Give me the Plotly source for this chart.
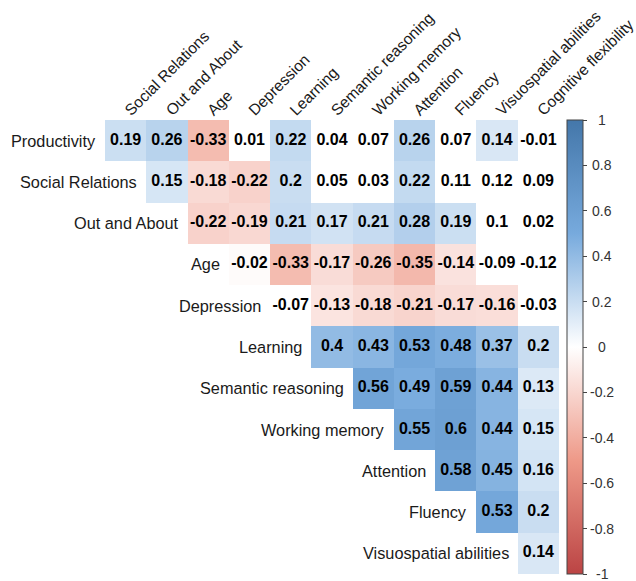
import plotly.graph_objects as go

# Variables (rows run top to bottom, columns left to right)
row_names = ["Productivity", "Social Relations", "Out and About", "Age", "Depression",
             "Learning", "Semantic reasoning", "Working memory", "Attention", "Fluency",
             "Visuospatial abilities"]
col_names = ["Social Relations", "Out and About", "Age", "Depression", "Learning",
             "Semantic reasoning", "Working memory", "Attention", "Fluency",
             "Visuospatial abilities", "Cognitive flexibility"]

# Upper-triangle correlations: row i starts at column i
corr_rows = [
    [0.19, 0.26, -0.33, 0.01, 0.22, 0.04, 0.07, 0.26, 0.07, 0.14, -0.01],
    [0.15, -0.18, -0.22, 0.2, 0.05, 0.03, 0.22, 0.11, 0.12, 0.09],
    [-0.22, -0.19, 0.21, 0.17, 0.21, 0.28, 0.19, 0.1, 0.02],
    [-0.02, -0.33, -0.17, -0.26, -0.35, -0.14, -0.09, -0.12],
    [-0.07, -0.13, -0.18, -0.21, -0.17, -0.16, -0.03],
    [0.4, 0.43, 0.53, 0.48, 0.37, 0.2],
    [0.56, 0.49, 0.59, 0.44, 0.13],
    [0.55, 0.6, 0.44, 0.15],
    [0.58, 0.45, 0.16],
    [0.53, 0.2],
    [0.14],
]

# Significance flags (1 = shaded cell, 0 = value shown on white)
signif_rows = [
    [1, 1, 1, 0, 1, 0, 0, 1, 0, 1, 0],
    [1, 1, 1, 1, 0, 0, 1, 0, 0, 0],
    [1, 1, 1, 1, 1, 1, 1, 0, 0],
    [1, 1, 1, 1, 1, 1, 0, 0],
    [0, 1, 1, 1, 1, 1, 0],
    [1, 1, 1, 1, 1, 1],
    [1, 1, 1, 1, 1],
    [1, 1, 1, 1],
    [1, 1, 1],
    [1, 1],
    [1],
]

colorbar_ticks = [1, 0.8, 0.6, 0.4, 0.2, 0, -0.2, -0.4, -0.6, -0.8, -1]

n = len(row_names)
z = [[None] * n for _ in range(n)]
tx, ty, tt = [], [], []
for i, vals in enumerate(corr_rows):
    for k, v in enumerate(vals):
        j = i + k
        if signif_rows[i][k]:
            z[i][j] = v
        tx.append(j)
        ty.append(i)
        tt.append(f"{v:g}")

colorscale = [
    [0.0, "#BB4444"],
    [0.25, "#EE9988"],
    [0.5, "#FFFFFF"],
    [0.75, "#77AADD"],
    [1.0, "#4477AA"],
]

FONT = "Liberation Sans, Arial, sans-serif"

fig = go.Figure()
fig.add_trace(go.Heatmap(
    z=z, x=list(range(n)), y=list(range(n)),
    zmin=-1, zmax=1, colorscale=colorscale, hoverongaps=False,
    colorbar=dict(
        x=1.0176, xanchor="left", xpad=0, y=0.5, yanchor="middle", ypad=0,
        len=1, lenmode="fraction", thickness=16, thicknessmode="pixels",
        outlinewidth=1, outlinecolor="#444444",
        tickmode="array", tickvals=colorbar_ticks, ticks="outside", ticklen=4,
        tickcolor="#444444", showticklabels=False,
    ),
))

fig.add_trace(go.Scatter(
    x=tx, y=ty, text=tt, mode="text", hoverinfo="skip", showlegend=False,
    textfont=dict(family=FONT, size=16, color="#000000", weight="bold"),
))

annotations = []
# Row labels sit just left of each row's first cell
for i, name in enumerate(row_names):
    annotations.append(dict(
        x=i - 0.5, y=i, xref="x", yref="y", text=name, showarrow=False,
        xanchor="right", yanchor="middle", xshift=-7,
        font=dict(family=FONT, size=16.3, color="#1a1a1a"),
    ))
# Centered colorbar tick labels
for t in colorbar_ticks:
    annotations.append(dict(
        x=1.095, y=(t + 1) / 2, xref="paper", yref="paper", text=f"{t:g}",
        showarrow=False, xanchor="center", yanchor="middle",
        font=dict(family=FONT, size=14, color="#333333"),
    ))

fig.update_layout(
    width=636, height=581,
    margin=dict(l=105, r=77, t=120, b=7, autoexpand=False),
    paper_bgcolor="white", plot_bgcolor="white",
    annotations=annotations,
    showlegend=False,
)
fig.update_xaxes(
    range=[-0.5, n - 0.5], side="top", tickmode="array",
    tickvals=list(range(n)), ticktext=col_names, tickangle=-45,
    showgrid=False, zeroline=False, showline=False, ticks="",
    automargin=False, ticklabeloverflow="allow", ticklabelstandoff=-3,
    tickfont=dict(family=FONT, size=15.6, color="#1a1a1a"),
)
fig.update_yaxes(
    range=[n - 0.5, -0.5], showticklabels=False, automargin=False,
    showgrid=False, zeroline=False, showline=False, ticks="",
)

fig.write_html("out.html")
